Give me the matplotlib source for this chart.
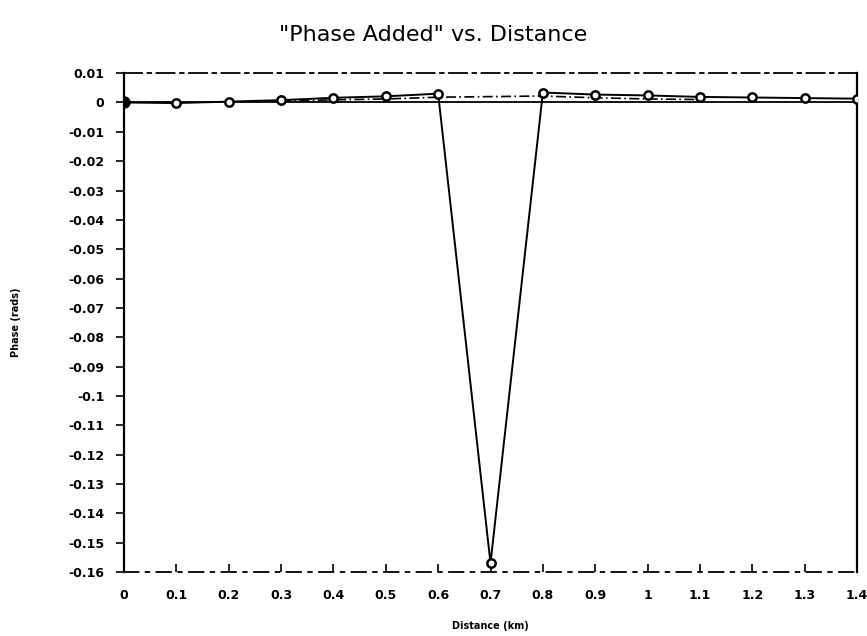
import matplotlib.pyplot as plt
import numpy as np

# distance (km) and phase added (rads)
distancia = [0.0, 0.1, 0.2, 0.3, 0.4, 0.5, 0.6, 0.7, 0.8, 0.9, 1.0, 1.1, 1.2, 1.3, 1.4]
fase = [0.0, -0.0002, 0.0003, 0.0008, 0.0016, 0.0021, 0.003, -0.157,
        0.0034, 0.0027, 0.0024, 0.0019, 0.0017, 0.0015, 0.0013]
# second (nearly coincident) trace, drawn dashed just under the first
distancia2 = [0.3, 0.4, 0.5, 0.6, 0.8, 0.9, 1.0, 1.1]
fase2 = [0.0005, 0.0009, 0.0012, 0.0018, 0.0022, 0.0016, 0.0012, 0.001]

y_ticks = [0.01, 0.0, -0.01, -0.02, -0.03, -0.04, -0.05, -0.06, -0.07, -0.08,
           -0.09, -0.1, -0.11, -0.12, -0.13, -0.14, -0.15, -0.16]
y_labels = ['0.01', '0', '-0.01', '-0.02', '-0.03', '-0.04', '-0.05', '-0.06',
            '-0.07', '-0.08', '-0.09', '-0.1', '-0.11', '-0.12', '-0.13', '-0.14',
            '-0.15', '-0.16']
x_labels = ['0', '0.1', '0.2', '0.3', '0.4', '0.5', '0.6', '0.7', '0.8', '0.9',
            '1', '1.1', '1.2', '1.3', '1.4']

fig = plt.figure(figsize=(8.67, 6.36), dpi=100)
ax = fig.add_axes([0.143, 0.1006, 0.8455, 0.7844])

ax.axhline(0, color='black', lw=1.3, zorder=1)
ax.plot(distancia2, fase2, color='black', lw=1.2, ls=(0, (6, 2, 1, 2)), zorder=2)
ax.plot(distancia, fase, color='black', lw=1.4, marker='o', ms=6,
        mfc='white', mec='black', mew=1.8, zorder=3)
ax.plot([0.0], [0.0], marker='o', ms=8, color='black', zorder=4)

ax.set_xlim(0, 1.4)
ax.set_ylim(-0.16, 0.01)
ax.set_xticks(distancia)
ax.set_xticklabels(x_labels)
ax.set_yticks(y_ticks)
ax.set_yticklabels(y_labels)
ax.tick_params(axis='x', direction='in', length=6, width=1.2, pad=12,
               labelsize=9)
ax.tick_params(axis='y', direction='out', length=6, width=1.2, pad=8,
               labelsize=9)
for t in ax.get_xticklabels() + ax.get_yticklabels():
    t.set_fontweight('bold')

ax.spines['left'].set_linewidth(1.6)
ax.spines['right'].set_linewidth(1.6)
ax.spines['top'].set_linewidth(1.3)
ax.spines['top'].set_linestyle((0, (10, 3, 2, 3)))
ax.spines['bottom'].set_linewidth(1.3)
ax.spines['bottom'].set_linestyle((0, (8, 4, 2, 4)))

fig.text(0.5, 0.945, '"Phase Added" vs. Distance', fontsize=16,
         ha='center', va='center')
ax.set_xlabel('Distance (km)', fontsize=7, fontweight='bold', labelpad=14)
ax.set_ylabel('Phase (rads)', fontsize=7, fontweight='bold', labelpad=34)

fig.savefig('out.png', dpi=100)
